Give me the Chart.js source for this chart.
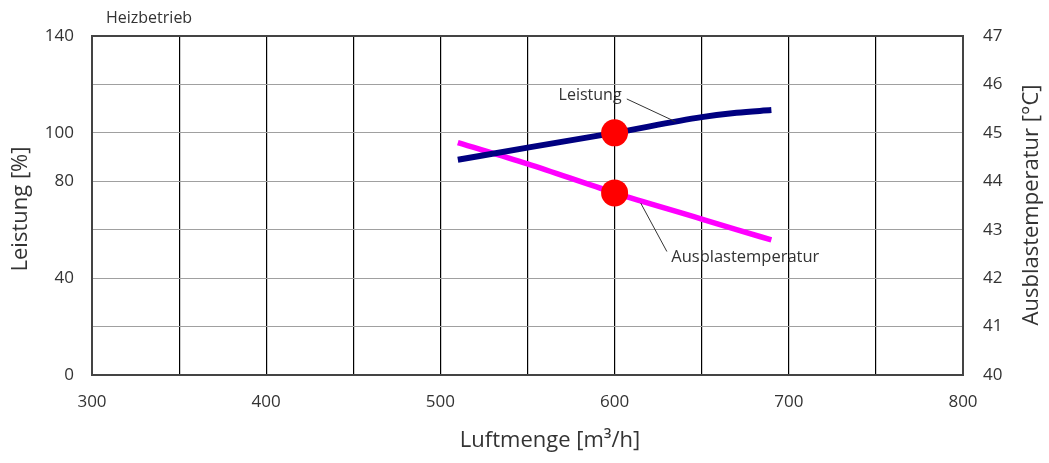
<!DOCTYPE html>
<html>
<head>
<meta charset="utf-8">
<script src="https://cdn.jsdelivr.net/npm/chart.js@4.4.0/dist/chart.umd.min.js"></script>
<style>
  html, body { margin: 0; padding: 0; background: #fff; }
  #wrap { width: 1049px; height: 463px; }
</style>
</head>
<body>
<div id="wrap"><canvas id="chart" width="1049" height="463"></canvas></div>
<script>
// Airflow [m3/h] vs. heating output [%] and outlet temperature [°C]
const airflow = [510, 550, 600, 650, 670, 690];
const leistung = [88.9, 93.9, 100, 106.5, 108.3, 109.4];
const ausblas = [44.8, 44.36, 43.76, 43.22, 43.0, 42.79];

// design point
const designAirflow = [600];
const designLeistung = [100];
const designTemp = [43.76];

const hiddenLeftTicks = [20, 60, 120];

// annotation labels (data units: x, left/right axis value)
const labelLeistung = { text: 'Leistung', x: 604, y: 115.6, from: [607, 114], to: [635, 104.6] };
const labelAusblas = { text: 'Ausblastemperatur', x: 632.5, y: 42.44, from: [615, 43.55], to: [630, 42.55] };

const FONT = '"Open Sans", "DejaVu Sans", sans-serif';
const TEXT = '#333';

const overlay = {
  id: 'overlay',
  beforeDatasetsDraw(chart) {
    const { ctx, chartArea: a } = chart;
    ctx.save();
    ctx.strokeStyle = '#444';
    ctx.lineWidth = 2;
    ctx.strokeRect(a.left, a.top, a.right - a.left, a.bottom - a.top);
    ctx.restore();
  },
  afterDatasetsDraw(chart) {
    const { ctx, chartArea: a, scales } = chart;
    const x = scales.x, y = scales.y, y2 = scales.y2;
    ctx.save();
    // leader lines
    ctx.strokeStyle = '#333';
    ctx.lineWidth = 1;
    ctx.beginPath();
    ctx.moveTo(x.getPixelForValue(labelLeistung.from[0]), y.getPixelForValue(labelLeistung.from[1]));
    ctx.lineTo(x.getPixelForValue(labelLeistung.to[0]), y.getPixelForValue(labelLeistung.to[1]));
    ctx.moveTo(x.getPixelForValue(labelAusblas.from[0]), y2.getPixelForValue(labelAusblas.from[1]));
    ctx.lineTo(x.getPixelForValue(labelAusblas.to[0]), y2.getPixelForValue(labelAusblas.to[1]));
    ctx.stroke();

    ctx.fillStyle = TEXT;
    ctx.font = '16px ' + FONT;
    ctx.textBaseline = 'middle';
    ctx.textAlign = 'right';
    ctx.fillText(labelLeistung.text, x.getPixelForValue(labelLeistung.x), y.getPixelForValue(labelLeistung.y));
    ctx.textAlign = 'left';
    ctx.font = '16.5px ' + FONT;
    ctx.fillText(labelAusblas.text, x.getPixelForValue(labelAusblas.x), y2.getPixelForValue(labelAusblas.y));

    // header
    ctx.font = '16px ' + FONT;
    ctx.fillText('Heizbetrieb', 106, 18);

    // axis titles
    ctx.font = '22px ' + FONT;
    ctx.textAlign = 'center';
    ctx.fillText('Luftmenge [m³/h]', 550, 441);
    ctx.save();
    ctx.translate(21, 209);
    ctx.rotate(-Math.PI / 2);
    ctx.fillText('Leistung [%]', 0, 0);
    ctx.restore();
    ctx.save();
    ctx.translate(1032, 205);
    ctx.rotate(-Math.PI / 2);
    ctx.fillText('Ausblastemperatur [°C]', 0, 0);
    ctx.restore();
    ctx.restore();
  }
};

const ctx = document.getElementById('chart').getContext('2d');
new Chart(ctx, {
  type: 'scatter',
  data: {
    datasets: [
      {
        label: 'Auslegung Leistung',
        data: designAirflow.map((v, i) => ({ x: v, y: designLeistung[i] })),
        yAxisID: 'y',
        backgroundColor: '#ff0000',
        borderWidth: 0,
        pointRadius: 13.5,
        pointHoverRadius: 13.5
      },
      {
        label: 'Auslegung Temperatur',
        data: designAirflow.map((v, i) => ({ x: v, y: designTemp[i] })),
        yAxisID: 'y2',
        backgroundColor: '#ff0000',
        borderWidth: 0,
        pointRadius: 13.5,
        pointHoverRadius: 13.5
      },
      {
        label: 'Leistung',
        type: 'line',
        data: airflow.map((v, i) => ({ x: v, y: leistung[i] })),
        yAxisID: 'y',
        borderColor: '#000080',
        borderWidth: 6,
        pointRadius: 0,
        cubicInterpolationMode: 'monotone',
        fill: false
      },
      {
        label: 'Ausblastemperatur',
        type: 'line',
        data: airflow.map((v, i) => ({ x: v, y: ausblas[i] })),
        yAxisID: 'y2',
        borderColor: '#ff00ff',
        borderWidth: 5.5,
        pointRadius: 0,
        cubicInterpolationMode: 'monotone',
        fill: false
      }
    ]
  },
  options: {
    responsive: false,
    animation: false,
    layout: { padding: { top: 36, left: 0, right: 0, bottom: 0 } },
    plugins: { legend: { display: false }, tooltip: { enabled: false } },
    scales: {
      x: {
        type: 'linear',
        min: 300, max: 800,
        afterFit: s => { s.height = 88; },
        grid: { color: '#000', lineWidth: 1.2, drawTicks: false },
        border: { display: false },
        ticks: {
          stepSize: 50,
          padding: 17,
          color: TEXT,
          font: { family: FONT, size: 17 },
          maxRotation: 0,
          autoSkip: false,
          callback: v => (v % 100 === 0 ? v : '')
        }
      },
      y: {
        position: 'left',
        min: 0, max: 140,
        afterFit: s => { s.width = 92; },
        grid: { color: '#a0a0a0', lineWidth: 1, drawTicks: false },
        border: { display: false },
        ticks: {
          stepSize: 20,
          padding: 18,
          color: TEXT,
          font: { family: FONT, size: 17 },
          callback: v => (hiddenLeftTicks.includes(v) ? '' : v)
        }
      },
      y2: {
        position: 'right',
        min: 40, max: 47,
        afterFit: s => { s.width = 86; },
        grid: { drawOnChartArea: false, drawTicks: false },
        border: { display: false },
        ticks: {
          stepSize: 1,
          padding: 20,
          color: TEXT,
          font: { family: FONT, size: 17 }
        }
      }
    }
  },
  plugins: [overlay]
});
</script>
</body>
</html>
